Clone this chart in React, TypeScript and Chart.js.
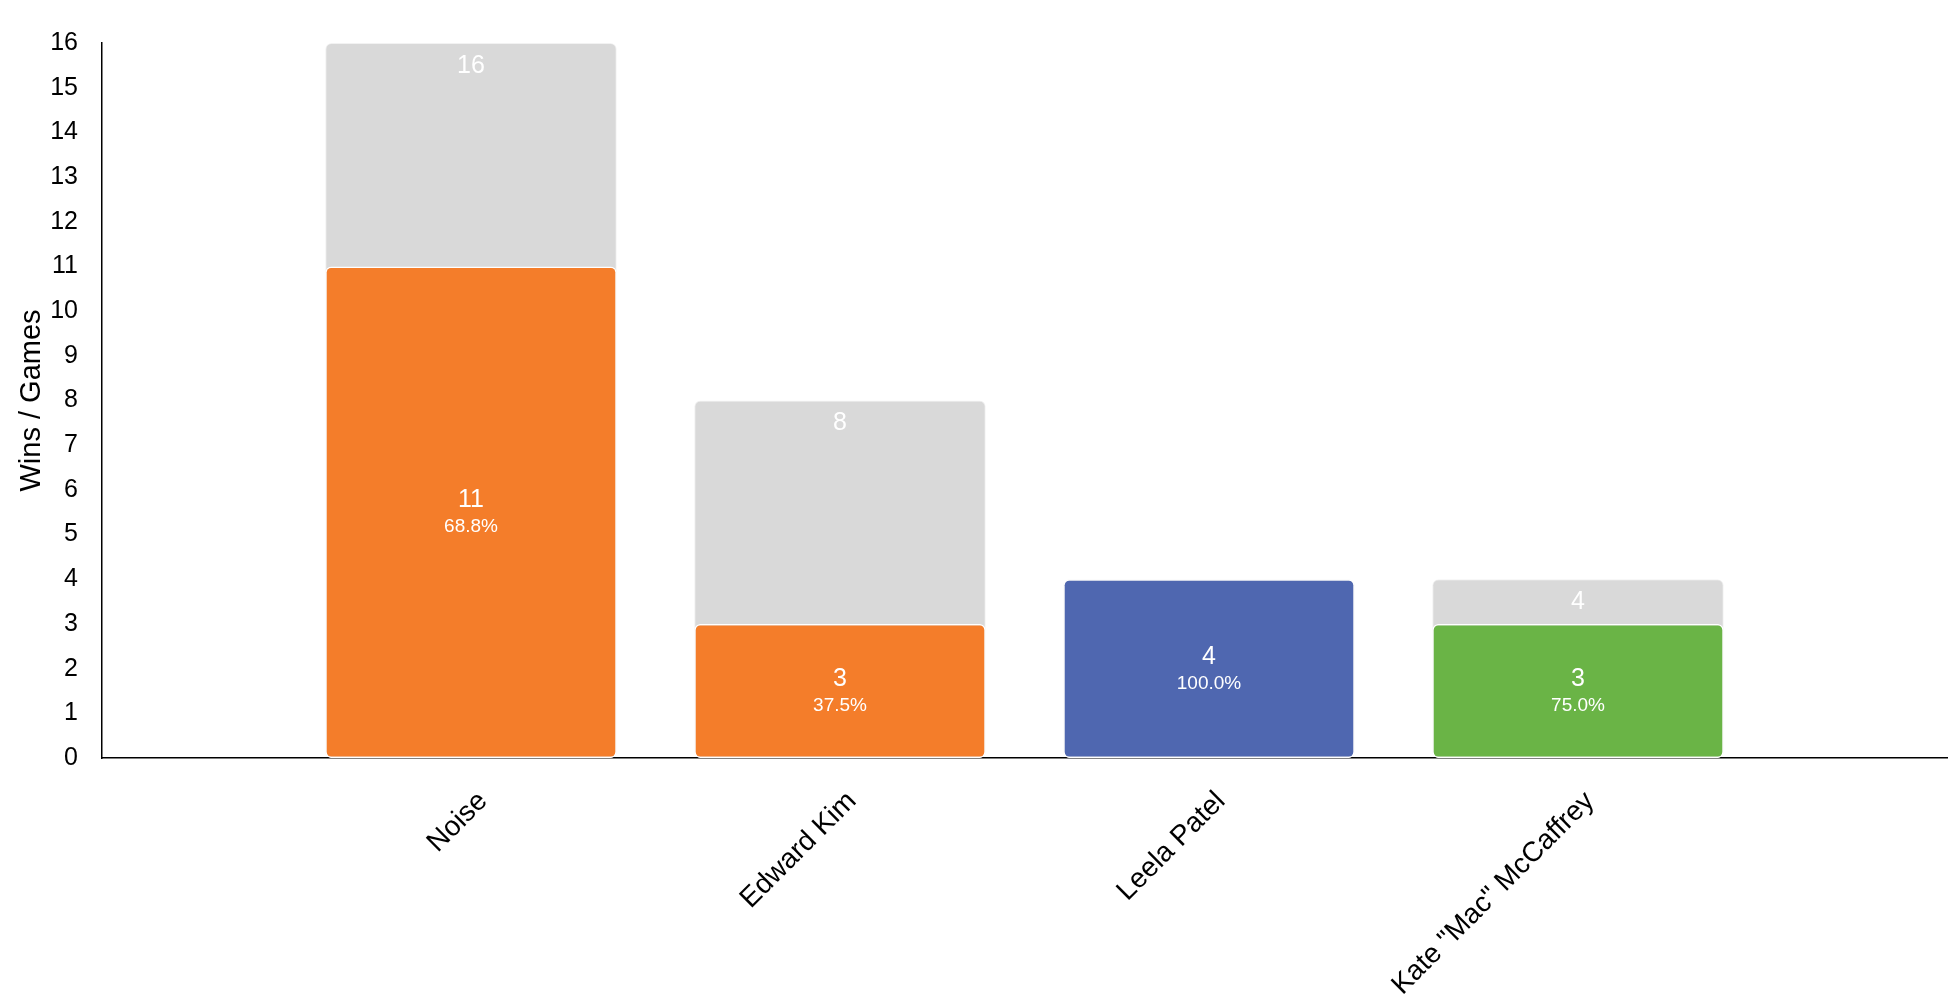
import React, { useEffect, useRef } from "react";
import { Chart, registerables } from "chart.js";

Chart.register(...registerables);

// Categories (empty slots at both ends keep the spacing of the original chart)
const categories = ["", "Noise", "Edward Kim", "Leela Patel", 'Kate "Mac" McCaffrey', ""];
const games: (number | null)[] = [null, 16, 8, 4, 4, null];
const wins: (number | null)[] = [null, 11, 3, 4, 3, null];
const winColors = ["#f47d2a", "#f47d2a", "#f47d2a", "#4f67b0", "#6ab446", "#f47d2a"];
const gamesColor = "#d9d9d9";
const yAxisTitle = "Wins / Games";
const yMin = 0;
const yMax = 16;

const FONT = '"Liberation Sans", Arial, Helvetica, sans-serif';

const barLabelPlugin = {
  id: "barLabels",
  afterDatasetsDraw(chart: any) {
    const ctx = chart.ctx;
    const winsMeta = chart.getDatasetMeta(0);
    const gamesMeta = chart.getDatasetMeta(1);
    ctx.save();
    ctx.fillStyle = "#ffffff";
    ctx.textAlign = "center";
    ctx.textBaseline = "middle";
    for (let i = 0; i < categories.length; i++) {
      const w = wins[i];
      const g = games[i];
      if (w == null || g == null) continue;
      const wb = winsMeta.data[i];
      const mid = (wb.y + wb.base) / 2;
      ctx.font = `25px ${FONT}`;
      ctx.fillText(String(w), wb.x, mid - 12);
      ctx.font = `19px ${FONT}`;
      ctx.fillText(((w / g) * 100).toFixed(1) + "%", wb.x, mid + 15);
      if (g !== w) {
        const gb = gamesMeta.data[i];
        ctx.font = `25px ${FONT}`;
        ctx.fillText(String(g), gb.x, gb.y + 23);
      }
    }
    ctx.restore();
  },
};

export default function App() {
  const canvasRef = useRef<HTMLCanvasElement | null>(null);

  useEffect(() => {
    if (!canvasRef.current) return;
    Chart.defaults.font.family = FONT;
    const chart = new Chart(canvasRef.current, {
      type: "bar",
      data: {
        labels: categories,
        datasets: [
          {
            label: "Wins",
            data: wins,
            backgroundColor: winColors,
            borderColor: "#ffffff",
            borderWidth: 1.5,
            borderRadius: 6,
            borderSkipped: false,
            grouped: false,
            order: 1,
            categoryPercentage: 1,
            barPercentage: 0.79,
          } as any,
          {
            label: "Games",
            data: games,
            backgroundColor: gamesColor,
            borderColor: "#f2f2f2",
            borderWidth: 1,
            borderRadius: 6,
            borderSkipped: false,
            grouped: false,
            order: 2,
            categoryPercentage: 1,
            barPercentage: 0.79,
          } as any,
        ],
      },
      options: {
        animation: false,
        responsive: true,
        maintainAspectRatio: false,
        layout: { padding: { top: 43, right: 3, left: 0, bottom: 0 } },
        plugins: {
          legend: { display: false },
          tooltip: { enabled: false },
        },
        scales: {
          x: {
            type: "category",
            offset: false,
            grid: { display: false, drawTicks: false },
            border: { display: true, color: "#000000", width: 1.5 },
            ticks: {
              autoSkip: false,
              minRotation: 45,
              maxRotation: 45,
              color: "#000000",
              font: { size: 28 },
              padding: 27,
              labelOffset: 12,
            },
            afterFit: (s: any) => {
              s.height = 242;
              s.paddingLeft = 0;
              s.paddingRight = 0;
            },
          },
          y: {
            min: yMin,
            max: yMax,
            grid: { display: false, drawTicks: false },
            border: { display: true, color: "#000000", width: 1.5 },
            ticks: {
              stepSize: 1,
              color: "#000000",
              font: { size: 25 },
              padding: 24,
            },
            title: {
              display: true,
              text: yAxisTitle,
              color: "#000000",
              font: { size: 29 },
              padding: { top: 15, bottom: 0 },
            },
            afterFit: (s: any) => {
              s.width = 102;
            },
          },
        },
      } as any,
      plugins: [barLabelPlugin],
    });
    return () => chart.destroy();
  }, []);

  return (
    <div style={{ position: "fixed", left: 0, top: 0, width: 1950, height: 1000, background: "#fff" }}>
      <canvas ref={canvasRef} />
    </div>
  );
}
